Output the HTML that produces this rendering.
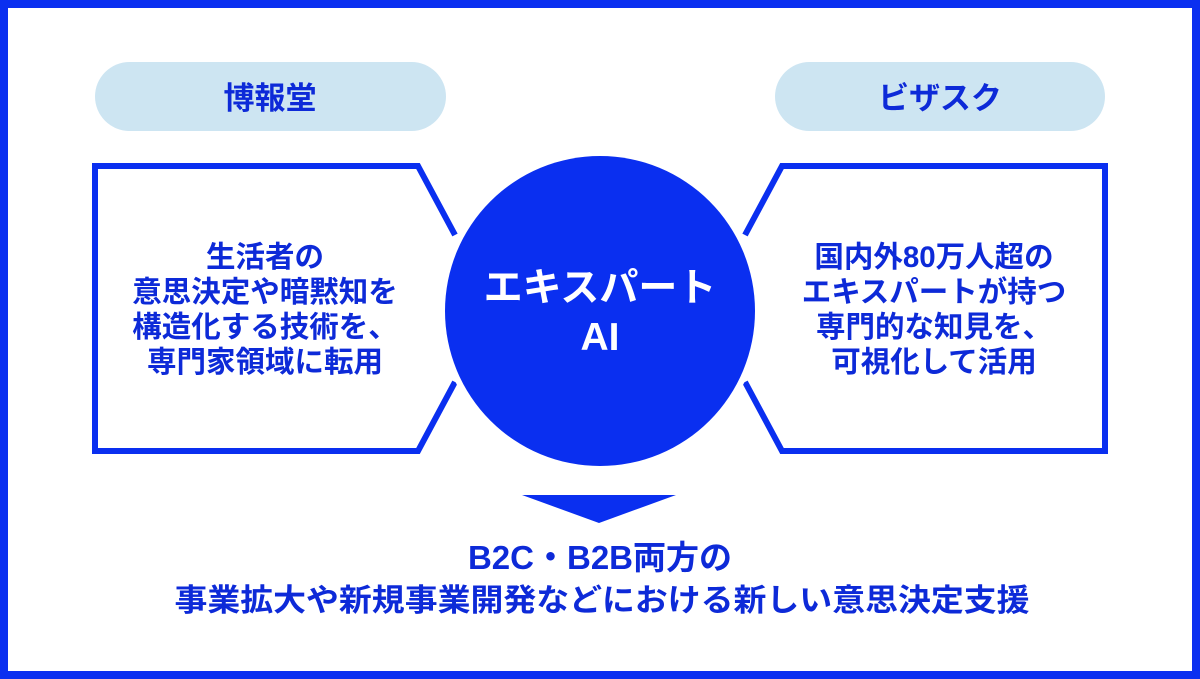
<!DOCTYPE html>
<html><head><meta charset="utf-8"><style>
html,body{margin:0;padding:0;background:#fff}
svg{display:block}
text{font-family:"Liberation Sans","Noto Sans CJK JP",sans-serif;font-weight:bold}
</style></head><body>
<svg width="1200" height="679" viewBox="0 0 1200 679" xmlns="http://www.w3.org/2000/svg">
<rect x="4" y="4" width="1192" height="671" fill="#fff" stroke="#0a2ff0" stroke-width="8"/>
<rect x="95" y="62" width="351" height="69" rx="34.5" fill="#cde5f2"/>
<rect x="775" y="62" width="330" height="69" rx="34.5" fill="#cde5f2"/>
<text x="270" y="109" font-size="31" fill="#0d2ad8" text-anchor="middle">博報堂</text>
<text x="940" y="109" font-size="31" fill="#0d2ad8" text-anchor="middle">ビザスク</text>
<polyline points="455,235 418,166 95,166 95,451 418,451 455,382" fill="none" stroke="#0a2ff0" stroke-width="6" stroke-linejoin="miter"/>
<polyline points="745,235 782,166 1105,166 1105,451 782,451 745,382" fill="none" stroke="#0a2ff0" stroke-width="6" stroke-linejoin="miter"/>
<circle cx="600" cy="311" r="157" fill="#0a2ff0" stroke="#fff" stroke-width="8"/>
<circle cx="600" cy="311" r="155" fill="#0a2ff0"/>
<text x="600" y="301" font-size="39" fill="#fff" text-anchor="middle">エキスパート</text>
<text x="600" y="350" font-size="39" fill="#fff" text-anchor="middle">AI</text>
<g font-size="29.5" fill="#0d2ad8" text-anchor="middle">
<text x="265" y="267">生活者の</text>
<text x="265" y="302">意思決定や暗黙知を</text>
<text x="265" y="337">構造化する技術を、</text>
<text x="265" y="372">専門家領域に転用</text>
<text x="934" y="267">国内外80万人超の</text>
<text x="934" y="302">エキスパートが持つ</text>
<text x="934" y="337">専門的な知見を、</text>
<text x="934" y="372">可視化して活用</text>
</g>
<polygon points="522,495 676,495 599,523" fill="#0a2ff0"/>
<text x="600" y="569" font-size="33" fill="#0d2ad8" text-anchor="middle">B2C・B2B両方の</text>
<text x="602" y="611" font-size="31" fill="#0d2ad8" text-anchor="middle" textLength="855" lengthAdjust="spacingAndGlyphs">事業拡大や新規事業開発などにおける新しい意思決定支援</text>
</svg>
</body></html>
